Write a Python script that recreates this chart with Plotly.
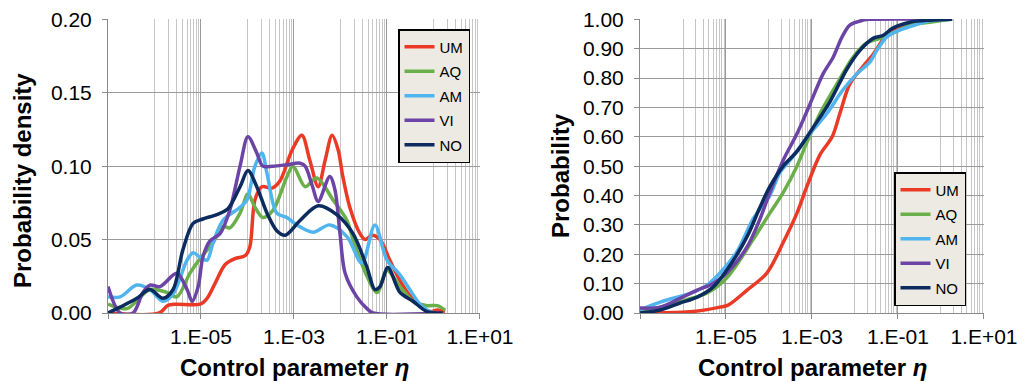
import plotly.graph_objects as go

# ---------------- data (x given as log10 of the control parameter eta) ----------------
series_names = ["UM", "AQ", "AM", "VI", "NO"]
series_colors = ["#EA3A26", "#6BAF4A", "#50B4EE", "#6C44A6", "#0C2B5E"]

# Probability density (left panel)
um_pdf_lx = [-7.0, -5.90, -5.72, -5.56, -5.02, -4.87, -4.70, -4.48, -4.27, -4.05, -3.95, -3.84, -3.69, -3.47, -3.30, -3.04, -2.83, -2.66, -2.48, -2.33, -2.18, -2.05, -1.95, -1.80, -1.58, -1.47, -1.32, -1.15, -0.94, -0.72, -0.51, -0.23, -0.08, 0.08, 0.25]
um_pdf = [0.0, 0.0, 0.005, 0.006, 0.006, 0.010, 0.020, 0.033, 0.037, 0.039, 0.045, 0.077, 0.086, 0.085, 0.090, 0.111, 0.121, 0.104, 0.086, 0.104, 0.121, 0.111, 0.093, 0.072, 0.054, 0.050, 0.053, 0.050, 0.036, 0.022, 0.012, 0.004, 0.001, 0.002, 0.001]

aq_pdf_lx = [-7.0, -6.59, -6.10, -5.73, -5.52, -5.24, -5.02, -4.74, -4.53, -4.38, -4.16, -3.99, -3.84, -3.67, -3.45, -3.15, -3.02, -2.76, -2.51, -2.16, -1.86, -1.73, -1.43, -1.21, -1.00, -0.72, -0.44, -0.14, 0.08, 0.25]
aq_pdf = [0.006, 0.003, 0.016, 0.014, 0.011, 0.027, 0.037, 0.048, 0.059, 0.058, 0.068, 0.081, 0.072, 0.065, 0.070, 0.093, 0.100, 0.086, 0.092, 0.077, 0.063, 0.050, 0.025, 0.014, 0.029, 0.018, 0.008, 0.005, 0.005, 0.002]

am_pdf_lx = [-7.0, -6.74, -6.38, -6.10, -5.82, -5.60, -5.30, -5.17, -5.02, -4.87, -4.74, -4.53, -4.16, -4.01, -3.84, -3.69, -3.58, -3.37, -3.15, -2.94, -2.59, -2.23, -1.86, -1.54, -1.26, -1.00, -0.72, -0.51, -0.29, -0.08, 0.08]
am_pdf = [0.011, 0.011, 0.019, 0.016, 0.008, 0.013, 0.036, 0.041, 0.038, 0.036, 0.048, 0.063, 0.072, 0.077, 0.100, 0.109, 0.095, 0.068, 0.065, 0.060, 0.055, 0.060, 0.052, 0.034, 0.060, 0.036, 0.026, 0.016, 0.006, 0.001, 0.0]

vi_pdf_lx = [-7.0, -6.74, -6.46, -6.25, -6.10, -5.88, -5.52, -5.30, -5.19, -5.06, -4.96, -4.81, -4.59, -4.38, -4.16, -3.99, -3.80, -3.67, -3.45, -3.15, -2.87, -2.76, -2.61, -2.48, -2.23, -2.12, -2.01, -1.90, -1.65, -1.43, -1.30, 0.08]
vi_pdf = [0.018, 0.0, 0.0, 0.014, 0.019, 0.018, 0.027, 0.016, 0.008, 0.018, 0.038, 0.049, 0.054, 0.070, 0.100, 0.120, 0.109, 0.100, 0.100, 0.101, 0.102, 0.100, 0.087, 0.076, 0.093, 0.084, 0.054, 0.027, 0.011, 0.003, 0.0, 0.0]

no_pdf_lx = [-7.0, -6.74, -6.38, -6.10, -5.82, -5.60, -5.39, -5.17, -4.96, -4.66, -4.42, -4.16, -3.99, -3.80, -3.58, -3.37, -3.19, -2.87, -2.48, -2.08, -1.73, -1.43, -1.26, -1.15, -0.98, -0.72, -0.44, -0.14, 0.20]
no_pdf = [0.0, 0.004, 0.010, 0.016, 0.010, 0.016, 0.043, 0.061, 0.064, 0.067, 0.071, 0.086, 0.097, 0.086, 0.068, 0.056, 0.053, 0.063, 0.073, 0.067, 0.054, 0.031, 0.016, 0.018, 0.031, 0.014, 0.008, 0.001, 0.0]

# Cumulative probability (right panel)
um_cdf_lx = [-7.0, -5.84, -5.14, -4.95, -4.51, -4.05, -3.67, -3.35, -3.12, -2.81, -2.53, -2.35, -2.12, -1.81, -1.58, -1.35, -1.12, -0.72, -0.26, 0.26]
um_cdf = [0.0, 0.004, 0.02, 0.027, 0.078, 0.136, 0.24, 0.34, 0.43, 0.54, 0.60, 0.68, 0.78, 0.84, 0.88, 0.93, 0.96, 0.985, 0.997, 1.0]

aq_cdf_lx = [-7.0, -6.53, -5.91, -5.44, -4.98, -4.37, -3.98, -3.67, -3.35, -3.12, -2.81, -2.42, -2.05, -1.72, -1.42, -1.02, -0.72, -0.26, 0.21]
aq_cdf = [0.008, 0.02, 0.045, 0.068, 0.12, 0.25, 0.34, 0.41, 0.50, 0.58, 0.68, 0.78, 0.87, 0.92, 0.935, 0.96, 0.98, 0.99, 1.0]

am_cdf_lx = [-7.0, -6.53, -6.14, -5.84, -5.44, -5.14, -4.74, -4.37, -3.98, -3.74, -3.51, -3.05, -2.65, -2.28, -1.95, -1.65, -1.49, -1.26, -1.02, -0.72, -0.26, 0.26]
am_cdf = [0.011, 0.037, 0.054, 0.066, 0.095, 0.136, 0.21, 0.32, 0.40, 0.48, 0.52, 0.61, 0.68, 0.76, 0.815, 0.855, 0.895, 0.94, 0.96, 0.975, 0.995, 1.0]

vi_cdf_lx = [-7.0, -6.53, -6.07, -5.67, -5.30, -4.98, -4.51, -4.21, -3.98, -3.67, -3.35, -3.05, -2.74, -2.51, -2.30, -2.12, -1.81, -1.65, 0.21]
vi_cdf = [0.017, 0.02, 0.05, 0.078, 0.10, 0.136, 0.225, 0.32, 0.41, 0.52, 0.61, 0.71, 0.815, 0.87, 0.94, 0.98, 0.997, 1.0, 1.0]

no_cdf_lx = [-7.0, -6.53, -6.07, -5.67, -5.30, -4.98, -4.51, -4.21, -3.98, -3.67, -3.35, -2.98, -2.58, -2.19, -1.88, -1.58, -1.35, -1.12, -0.72, -0.26, 0.26]
no_cdf = [0.0, 0.01, 0.034, 0.054, 0.088, 0.146, 0.26, 0.36, 0.43, 0.50, 0.55, 0.63, 0.72, 0.83, 0.895, 0.935, 0.945, 0.97, 0.99, 0.997, 1.0]

# axis ticks
x_tick_vals = [1e-7, 1e-5, 1e-3, 1e-1, 1e1]
x_tick_text = ["", "1.E-05", "1.E-03", "1.E-01", "1.E+01"]
x_minor_vals = [k * 10.0 ** e for e in (-6, -4, -2, 0) for k in range(1, 10)]
pdf_tick_vals = [0.0, 0.05, 0.10, 0.15, 0.20]
cdf_tick_vals = [0.0, 0.1, 0.2, 0.3, 0.4, 0.5, 0.6, 0.7, 0.8, 0.9, 1.0]

pdf_data = [(um_pdf_lx, um_pdf), (aq_pdf_lx, aq_pdf), (am_pdf_lx, am_pdf), (vi_pdf_lx, vi_pdf), (no_pdf_lx, no_pdf)]
cdf_data = [(um_cdf_lx, um_cdf), (aq_cdf_lx, aq_cdf), (am_cdf_lx, am_cdf), (vi_cdf_lx, vi_cdf), (no_cdf_lx, no_cdf)]

FONT = "Liberation Sans, Arial, sans-serif"
OFF = 8                      # page body margin of the html page
W, H = 1031 - OFF, 382 - OFF

def px(xp):
    return (xp - OFF) / W

def py(yp):
    return 1 - (yp - OFF) / H

fig = go.Figure()
for name, color, (lx, y) in zip(series_names, series_colors, pdf_data):
    fig.add_trace(go.Scatter(
        x=[10 ** v for v in lx], y=y, name=name, mode="lines",
        line=dict(color=color, width=3.5, shape="spline", smoothing=0.9),
        xaxis="x", yaxis="y", legend="legend", legendgroup="L" + name))
for name, color, (lx, y) in zip(series_names, series_colors, cdf_data):
    fig.add_trace(go.Scatter(
        x=[10 ** v for v in lx], y=y, name=name, mode="lines",
        line=dict(color=color, width=3.5, shape="spline", smoothing=0.9),
        xaxis="x2", yaxis="y2", legend="legend2", legendgroup="R" + name))

def xaxis_cfg(domain, anchor):
    return dict(
        type="log", domain=domain, anchor=anchor, range=[-7, 1.0005],
        tickmode="array", tickvals=x_tick_vals, ticktext=x_tick_text,
        ticks="outside", ticklen=5, tickcolor="#8a8a8a", tickwidth=1,
        showline=True, linecolor="#8a8a8a", linewidth=1,
        showgrid=True, gridcolor="#9a9a9a", gridwidth=1.2,
        minor=dict(tickmode="array", tickvals=x_minor_vals, showgrid=True,
                   gridcolor="#c6c6c6", gridwidth=1, ticks=""),
        tickfont=dict(family=FONT, size=21, color="#000"),
        ticklabeloverflow="allow",
        automargin=False, zeroline=False, fixedrange=True)

def yaxis_cfg(domain, anchor, rng, vals):
    return dict(
        domain=domain, anchor=anchor, range=rng,
        tickmode="array", tickvals=vals,
        tickformat=".2f", ticks="outside", ticklen=5, tickcolor="#8a8a8a",
        showline=True, linecolor="#8a8a8a", linewidth=1,
        showgrid=True, gridcolor="#9a9a9a", gridwidth=1.2,
        tickfont=dict(family=FONT, size=21, color="#000"),
        ticklabeloverflow="allow",
        ticklabelstandoff=6, automargin=False, zeroline=False, fixedrange=True)

ydom = [py(313), py(19)]
legend_common = dict(xanchor="left", yanchor="top",
                     bgcolor="#EDEAE3", bordercolor="#000", borderwidth=1.5,
                     font=dict(family=FONT, size=15, color="#000"),
                     tracegroupgap=2, traceorder="grouped")
fig.update_layout(
    width=W, height=H, margin=dict(l=0, r=0, t=0, b=0, autoexpand=False),
    paper_bgcolor="white", plot_bgcolor="white",
    xaxis=xaxis_cfg([px(108), px(480)], "y"),
    yaxis=yaxis_cfg(ydom, "x", [0, 0.2002], pdf_tick_vals),
    xaxis2=xaxis_cfg([px(640), px(984)], "y2"),
    yaxis2=yaxis_cfg(ydom, "x2", [0, 1.001], cdf_tick_vals),
    legend=dict(x=px(398), y=py(29), **legend_common),
    legend2=dict(x=px(894), y=py(172), **legend_common),
    showlegend=True,
)

title_font = dict(family=FONT, size=24, color="#000")
fig.add_annotation(text="<b>Probability density</b>", textangle=-90, x=px(22), y=py(181),
                   xref="paper", yref="paper", showarrow=False, font=title_font,
                   xanchor="center", yanchor="middle")
fig.add_annotation(text="<b>Probability</b>", textangle=-90, x=px(560), y=py(176),
                   xref="paper", yref="paper", showarrow=False, font=title_font,
                   xanchor="center", yanchor="middle")
fig.add_annotation(text="<b>Control parameter <i>η</i></b>", x=px(294), y=py(367),
                   xref="paper", yref="paper", showarrow=False, font=title_font,
                   xanchor="center", yanchor="middle")
fig.add_annotation(text="<b>Control parameter <i>η</i></b>", x=px(812), y=py(367),
                   xref="paper", yref="paper", showarrow=False, font=title_font,
                   xanchor="center", yanchor="middle")

fig.write_html("out.html")
